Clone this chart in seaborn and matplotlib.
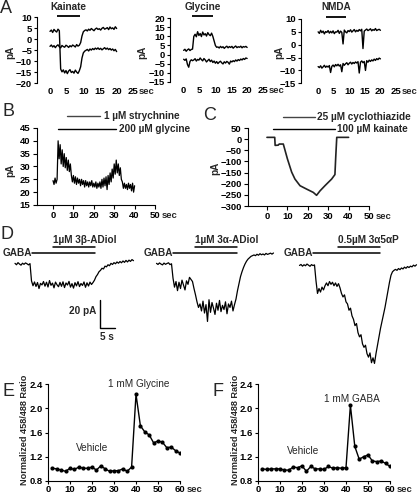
import numpy as np
import matplotlib
matplotlib.use("Agg")
import matplotlib.pyplot as plt
import seaborn as sns

# ======================= DATA =======================
# ---- Panel A (time 0-20 s, sampled evenly) ----
a_t_start, a_t_end = 0.0, 20.0
a_xticks = [0, 5, 10, 15, 20, 25]

kainate_trace_1 = [3.6, 4.2, 3.1, 4.5, 3.8, 3.3, 4.6, 3.9, -13.5,
                   -14.8, -13.9, -15.3, -14.2, -15.6, -14.4, -13.8, -15.1, -14.6, -15.4, -14.0, -14.9, -15.5, -14.3,
                   -12.5, -8.5, -6.2, -5.4,
                   -5.0, -4.6, -5.3, -4.4, -4.9, -4.2, -4.7, -4.0, -4.5, -3.9, -4.6, -4.1, -4.8, -4.3, -3.8, -4.5,
                   -4.0, -4.7, -4.2, -4.9, -4.4, -5.2, -4.6, -5.6]
kainate_trace_2 = [-3.2, -2.6, -3.5, -2.9, -3.8, -3.0, -2.5, -3.4, -3.9, -2.8, -3.3, -3.6, -2.7, -3.1, -3.7, -2.9,
                   -3.4, -2.6, -3.0, -3.5, -2.4, -3.1, -2.7,
                   -1.5, 1.5, 3.4, 4.0,
                   4.3, 3.8, 4.6, 4.1, 4.9, 4.4, 3.9, 4.7, 5.1, 4.5, 4.8, 4.2, 5.0, 5.4, 4.6, 4.9, 5.3, 4.4, 5.6,
                   4.8, 5.2, 4.5, 5.7, 4.9]
kainate_yticks = [10, 5, 0, -5, -10, -15, -20]
kainate_bar = (2.1, 9.0)

glycine_trace_1 = [2.3, 2.9, 1.8, 2.6, 3.1, 2.2, 2.8, 3.0, 10.0,
                   11.2, 9.8, 12.6, 10.5, 11.6, 9.9, 12.4, 10.8, 11.5, 10.2, 12.1, 11.0, 10.4, 11.8,
                   10.0, 7.5, 5.0, 4.0,
                   4.2, 3.6, 4.5, 3.8, 4.3, 3.4, 4.1, 4.6, 3.7, 4.4, 3.9, 4.5, 3.5, 4.2, 4.7, 3.8, 4.3, 4.0,
                   4.6, 3.7, 4.4, 4.1, 4.5, 3.9]
glycine_trace_2 = [-2.6, -3.2, -2.4, -5.5, -7.0, -3.8, -2.9, -3.4, -3.0, -2.3, -3.6, -2.7, -3.1, -1.9, -2.8,
                   -3.5, -2.2, -3.0, -4.1, -3.3, -2.6, -3.9, -3.1, -4.4, -3.6, -4.8, -3.9, -5.0, -4.2, -3.7,
                   -4.6, -5.2, -4.0, -4.7, -3.8, -4.3, -5.3, -3.6, -4.1, -3.4, -3.9, -3.0, -3.6, -2.8, -3.3,
                   -2.5, -3.0, -2.2, -2.7, -1.9, -2.2]
glycine_yticks = [20, 15, 10, 5, 0, -5, -10, -15]
glycine_bar = (2.6, 9.2)

nmda_trace_1 = [5.0, 4.4, 5.6, 4.7, 5.3, 4.2, 5.1, 4.8, 5.5, 4.5, 5.2, 4.6, 5.4, 4.3, 5.0, 4.9, 5.6, 4.4, 5.3, 4.8,
                0.3,
                5.7, 5.0, 4.6, 5.5, 5.1, 5.8, 4.9, 5.4, 5.9, 5.0, 5.6, 5.2, 5.9, 5.4, 6.0,
                -1.5,
                5.3, 5.7, 6.1, 5.5, 5.8, 6.2, 5.4, 5.9, 5.6, 6.3, 5.5, 5.8, 6.0, 5.6]
nmda_trace_2 = [-8.5, -8.9, -8.2, -9.1, -8.6, -8.0, -8.8, -8.3, -8.7, -8.1,
                -10.8,
                -8.4, -7.9, -8.6, -7.7, -8.2, -7.6, -8.3, -7.8,
                -10.5,
                -7.3, -8.0, -7.4, -7.0, -7.8, -7.2, -6.8, -7.5, -6.9, -7.3, -6.7, -7.1, -6.6,
                -11.0,
                -6.8, -6.3, -7.0, -6.5,
                -10.0,
                -6.2, -6.8, -6.0, -6.5, -5.9, -6.3, -5.6, -6.1, -5.4, -5.8, -5.2, -5.5]
nmda_yticks = [10, 5, 0, -5, -10, -15]
nmda_bar = (2.6, 9.1)

# ---- Panel B (0-40 s, 0.5 s steps) ----
b_t_start, b_t_end = 0.0, 40.0
b_current = [24.5, 23.0, 25.5, 23.5, 25.0, 40.0, 33.0, 38.5, 31.0, 36.5, 30.0, 35.0, 29.5, 33.5, 28.5, 32.5,
             28.0, 31.0, 26.5, 24.0, 26.5, 23.5, 26.0, 23.0, 25.5, 23.5, 25.0, 22.5, 25.0, 23.0, 24.5, 22.0,
             24.5, 22.5, 24.0, 22.0, 24.0, 22.5, 24.5, 22.0, 23.5, 22.0, 24.0, 21.5, 23.5, 22.0, 24.0, 21.5,
             25.0, 22.0, 25.5, 22.5, 26.0, 21.0, 26.5, 23.0, 27.5, 24.0, 29.0, 25.5, 31.0, 27.0, 32.5, 27.5,
             31.0, 26.5, 29.5, 25.0, 24.0, 21.5, 23.5, 21.5, 23.0, 21.0, 23.5, 21.5, 23.0, 20.5, 23.5, 20.0,
             22.5]
b_yticks = [15, 20, 25, 30, 35, 40, 45]
bc_xticks = [0, 10, 20, 30, 40, 50]
strychnine_bar = (7.0, 23.0)
b_glycine_bar = (2.5, 31.0)

# ---- Panel C ----
c_time = [0, 3.8, 4.0, 5.5, 6.0, 8.0, 10.0, 12.1, 13.7, 16.2, 19.4, 22.7, 24.3, 26.0, 28.4, 31.7, 33.3,
          33.7, 34.2, 40]
c_current = [8, 8, -28, -27, -22, -22, -88, -148, -179, -209, -224, -239, -252, -232, -209, -179, -159,
             -80, 8, 8]
c_yticks = [50, 0, -50, -100, -150, -200, -250, -300]
cyclothiazide_bar = (7.8, 23.5)
c_kainate_bar = (2.9, 33.3)

# ---- Panel D (0.5 s steps, pA relative to GABA baseline) ----
d_step = 0.5
d1_t0 = 5.0
d1_current = [0.5, -0.5, 1.0, 0.0, -0.8, 0.6, -0.2, 0.8, 0.2, -0.6, 0.3,
              -12.0,
              -15.5, -12.8, -16.0, -13.2, -17.5, -13.8, -14.9, -12.5, -15.8, -13.0, -16.4, -11.8, -15.2, -13.6,
              -17.0, -12.9, -14.8, -16.2, -13.1, -15.9, -12.7, -16.8, -13.5, -15.0, -12.4, -16.5, -14.0, -17.2,
              -13.3, -15.6, -12.6, -16.1, -13.9, -15.3, -12.8, -16.6, -13.4, -15.7, -12.9, -14.6, -13.2,
              -11.5, -9.0, -7.5, -5.5, -4.5, -3.0, -3.5, -1.5,
              -2.0, -0.5, -1.2, 0.5, -0.3, 1.0, 0.2, 1.5, 0.6, 1.8, 0.9, 2.2, 1.2, 2.6, 1.5, 2.8, 1.9, 3.2, 2.4]
d2_t0 = 5.5
d2_current = [0.5, -0.3, 0.8, 0.0, -0.6, 0.7, -0.2, 0.4, 0.9, -0.4, 0.2,
              -10.0,
              -16.5, -12.5, -19.0, -13.0, -17.5, -11.5, -15.0, -18.5, -12.0, -14.5,
              -9.5, -11.0, -12.5,
              -17.5, -22.0, -27.0, -31.0,
              -28.5, -33.5, -26.5, -35.0, -29.0, -41.0, -25.5, -34.5, -27.5, -31.5, -36.0, -28.0, -33.0, -26.0,
              -34.0, -29.5, -32.5, -27.0, -35.5, -28.5, -31.0, -26.5, -33.5, -29.0,
              -25.0, -19.0, -14.0, -9.0, -5.5, -2.5, 0.0, 2.0, 3.5, 4.5, 5.5, 6.0, 6.5,
              6.0, 7.0, 6.3, 7.4, 6.6, 7.2, 6.5, 7.6, 6.9, 7.3, 7.8, 7.1, 7.9]
d3_t0 = 6.5
d3_current = [-1.0, -0.3, -1.5, -0.5, -1.2, 0.0, -0.8, -1.6, -0.4, -1.1, -0.6,
              -12.0,
              -21.0, -17.5, -20.0, -16.5, -18.5, -15.5,
              -13.5, -15.5, -12.5, -14.5, -13.0, -15.5, -13.5, -16.0, -14.0, -17.0,
              -21.0, -23.5, -22.0, -27.0, -28.5, -33.0, -31.5, -37.0, -39.5, -44.0, -42.5, -49.0, -52.0, -50.5,
              -57.0, -59.5, -58.0, -64.0, -66.5, -63.5, -70.5,
              -67.0, -71.0, -64.0, -58.0, -52.0,
              -46.0, -41.0, -36.0, -31.0, -25.0, -19.0, -13.0, -8.0, -5.5, -4.5,
              -3.8, -4.5, -3.2, -4.0, -2.8, -3.5, -2.2, -3.0, -1.8, -2.5, -1.5, -2.0, -0.8, -1.5, -0.5]
d_gaba_bars = [(10.6, 31.7), (11.0, 32.3), (11.0, 33.3)]
d_drug_bars = [(17.8, 31.7), (18.3, 32.3), (19.3, 33.3)]
d_drug_labels = ["1\u00b5M 3\u03b2-ADiol", "1\u00b5M 3\u03b1-ADiol", "0.5\u00b5M 3\u03b15\u03b1P"]

# ---- Panels E / F ----
ef_time = [2, 4, 6, 8, 10, 12, 14, 16, 18, 20, 22, 24, 26, 28, 30, 32, 34, 36, 38, 40,
           42, 44, 46, 48, 50, 52, 54, 56, 58, 60]
e_ratio = [1.01, 1.00, 0.98, 0.96, 1.01, 0.99, 1.03, 1.01, 1.01, 1.03, 0.98, 1.05, 1.00, 0.96, 0.97,
           0.97, 1.00, 0.96, 1.03, 2.23, 1.71, 1.61, 1.56, 1.43, 1.46, 1.44, 1.35, 1.36, 1.30, 1.26]
f_ratio = [1.00, 0.99, 1.00, 1.00, 1.00, 0.98, 0.98, 1.03, 1.02, 1.05, 0.96, 1.04, 1.00, 1.00, 0.99,
           1.04, 1.01, 1.02, 1.01, 1.02, 2.05, 1.37, 1.16, 1.20, 1.23, 1.13, 1.12, 1.13, 1.09, 1.04]
ef_yticks = [0.8, 1.2, 1.6, 2.0, 2.4]
ef_xticks = [0, 10, 20, 30, 40, 50, 60]

# ======================= STYLE =======================
sns.set_style("ticks")
plt.rcParams["font.family"] = ["Liberation Sans", "DejaVu Sans"]
plt.rcParams["axes.linewidth"] = 0.8
plt.rcParams["xtick.major.width"] = 0.8
plt.rcParams["ytick.major.width"] = 0.8
plt.rcParams["xtick.color"] = "black"
plt.rcParams["ytick.color"] = "black"
plt.rcParams["axes.edgecolor"] = "black"

W, H = 420, 497
fig = plt.figure(figsize=(W / 100, H / 100), dpi=100)
fig.patch.set_facecolor("white")

TF = 6.8  # tick font size
LF = 7.2  # label font


def px_axes(l, t, r, b):
    return fig.add_axes([l / W, 1 - b / H, (r - l) / W, (b - t) / H])


def ftext(x, y, s, **kw):
    fig.text(x / W, 1 - y / H, s, **kw)


def trace(ax, t, v, lw=0.8, color="black"):
    sns.lineplot(x=t, y=v, ax=ax, color=color, lw=lw, estimator=None, sort=False, legend=False)


def sec_label(ax, xval, dx_pts, pad_pts):
    ax.annotate("sec", xy=(xval, 0), xycoords=("data", "axes fraction"),
                xytext=(dx_pts, -pad_pts), textcoords="offset points",
                ha="left", va="top", fontsize=TF, fontweight="bold")


def style_ticks(ax):
    for lab in ax.get_xticklabels() + ax.get_yticklabels():
        lab.set_fontweight("bold")
        lab.set_fontsize(TF)


# ======================= PANEL A =======================
a_specs = [
    ((37, 17.3, 133.3, 83.3), (-3.9, 25), (-20, 10), kainate_yticks,
     kainate_trace_1, kainate_trace_2, kainate_bar, "Kainate", 10.7, 14.8, 10),
    ((170, 18.3, 263, 81.7), (-4.3, 25), (-15, 20), glycine_yticks,
     glycine_trace_1, glycine_trace_2, glycine_bar, "Glycine", 21.4, 26.2, 142),
    ((301, 19, 396, 83.3), (-5.5, 25), (-15, 10), nmda_yticks,
     nmda_trace_1, nmda_trace_2, nmda_bar, "NMDA", 10.9, 14.7, 279),
]
for box, xl, yl, yt, tr1, tr2, bar, name, bar_y, name_y, pa_x in a_specs:
    ax = px_axes(*box)
    t1 = np.linspace(a_t_start, a_t_end, len(tr1))
    t2 = np.linspace(a_t_start, a_t_end, len(tr2))
    trace(ax, t1, tr1, lw=1.0)
    trace(ax, t2, tr2, lw=1.0)
    ax.set_xlim(*xl)
    ax.set_ylim(*yl)
    ax.set_xticks(a_xticks)
    ax.set_yticks(yt)
    ax.set_xlabel("")
    ax.set_ylabel("")
    for s in ["top", "right", "bottom"]:
        ax.spines[s].set_visible(False)
    ax.tick_params(axis="x", length=0, pad=3.0)
    ax.tick_params(axis="y", length=2.0, pad=1.5)
    style_ticks(ax)
    sec_label(ax, 25, 3.8, 3.0)
    ax.plot(list(bar), [bar_y, bar_y], color="black", lw=1.3, clip_on=False, solid_capstyle="butt")
    ax.text(sum(bar) / 2, name_y, name, ha="center", va="center", fontsize=LF, fontweight="bold")
    ftext(pa_x, 52, "pA", rotation=90, ha="center", va="center", fontsize=LF, fontweight="bold")

ftext(0, 0, "A", fontsize=13, ha="left", va="top")

# ======================= PANEL B =======================
axb = px_axes(36.7, 128, 155, 205)
tb = np.linspace(b_t_start, b_t_end, len(b_current))
trace(axb, tb, b_current, lw=0.9)
axb.set_xlim(-8, 50)
axb.set_ylim(15, 45)
axb.set_xticks(bc_xticks)
axb.set_yticks(b_yticks)
axb.set_xlabel("")
axb.set_ylabel("")
sns.despine(ax=axb)
axb.tick_params(axis="both", length=3, pad=1.5)
style_ticks(axb)
sec_label(axb, 50, 5, 4.5)
axb.plot(list(strychnine_bar), [49.7, 49.7], color="#444444", lw=1.0, clip_on=False)
axb.plot(list(b_glycine_bar), [44.6, 44.6], color="black", lw=1.0, clip_on=False)
axb.text(strychnine_bar[1] + 2.2, 49.7, "1 \u00b5M strychnine", ha="left", va="center",
         fontsize=LF, fontweight="bold")
axb.text(b_glycine_bar[1] + 1.5, 44.6, "200 \u00b5M glycine", ha="left", va="center",
         fontsize=LF, fontweight="bold")
ftext(10, 170, "pA", rotation=90, ha="center", va="center", fontsize=LF, fontweight="bold")
ftext(2, 103, "B", fontsize=13, ha="left", va="top")

# ======================= PANEL C =======================
axc = px_axes(248, 128, 369, 206)
trace(axc, c_time, c_current, lw=1.2, color="#222222")
axc.set_xlim(-9.3, 50)
axc.set_ylim(-300, 50)
axc.set_xticks(bc_xticks)
axc.set_yticks(c_yticks)
axc.set_xlabel("")
axc.set_ylabel("")
sns.despine(ax=axc)
axc.tick_params(axis="both", length=3, pad=1.5)
style_ticks(axc)
sec_label(axc, 50, 5, 4.5)
axc.plot(list(cyclothiazide_bar), [99, 99], color="#444444", lw=1.0, clip_on=False)
axc.plot(list(c_kainate_bar), [45.5, 45.5], color="black", lw=1.0, clip_on=False)
axc.text(cyclothiazide_bar[1] + 1.2, 99, "25 \u00b5M cyclothiazide", ha="left", va="center",
         fontsize=LF, fontweight="bold")
axc.text(c_kainate_bar[1] + 0.8, 45.5, "100 \u00b5M kainate", ha="left", va="center",
         fontsize=LF, fontweight="bold")
ftext(215, 168, "pA", rotation=90, ha="center", va="center", fontsize=LF, fontweight="bold")
ftext(203, 107, "C", fontsize=13, ha="left", va="top")

# ======================= PANEL D =======================
d_traces = [(d1_t0, d1_current), (d2_t0, d2_current), (d3_t0, d3_current)]
d_lefts = [0, 140, 280]
gaba_y = 7.9
drug_y = 12.4
for i, ((t0, cur), left) in enumerate(zip(d_traces, d_lefts)):
    ax = px_axes(left, 225, left + 140, 370)
    td = t0 + d_step * np.arange(len(cur))
    trace(ax, td, cur, lw=0.9)
    ax.set_xlim(0, 46.67)
    ax.set_ylim(-75.7, 27.9)
    ax.axis("off")
    g0, g1 = d_gaba_bars[i]
    ax.plot([g0, g1], [gaba_y, gaba_y], color="black", lw=1.1, clip_on=False)
    ax.text(g0, gaba_y, "GABA", ha="right", va="center", fontsize=LF, fontweight="bold")
    r0, r1 = d_drug_bars[i]
    ax.plot([r0, r1], [drug_y, drug_y], color="black", lw=1.1, clip_on=False)
    ax.text(r0, drug_y + 1.3, d_drug_labels[i], ha="left", va="bottom", fontsize=LF, fontweight="bold")
    if i == 0:
        # scale bar: 20 pA, 5 s
        ax.plot([33.3, 33.3, 38.3], [-25.7, -45.7, -45.7], color="black", lw=1.0, clip_on=False)
        ax.text(32.0, -33.5, "20 pA", ha="right", va="center", fontsize=LF, fontweight="bold")
        ax.text(35.8, -48.5, "5 s", ha="center", va="top", fontsize=LF, fontweight="bold")
ftext(0, 226, "D", fontsize=13, ha="left", va="top")

# ======================= PANELS E / F =======================
ef_specs = [(48, 180, e_ratio, "1 mM Glycine", (41, 2.4), (20, 1.34), 25, "E", 2),
            (258, 390, f_ratio, "1 mM GABA", (42.7, 2.155), (20.5, 1.29), 235, "F", 212)]
for l, r, ratio, stim, stim_xy, veh_xy, yl_x, letter, let_x in ef_specs:
    ax = px_axes(l, 384, r, 481)
    sns.lineplot(x=ef_time, y=ratio, ax=ax, color="black", lw=1.0, marker="o", markersize=3,
                 markeredgewidth=0, estimator=None, legend=False)
    ax.set_xlim(0, 60)
    ax.set_ylim(0.8, 2.4)
    ax.set_xticks(ef_xticks)
    ax.set_yticks(ef_yticks)
    ax.set_yticklabels([f"{v:.1f}" for v in ef_yticks])
    ax.set_xlabel("")
    ax.set_ylabel("")
    sns.despine(ax=ax)
    ax.tick_params(axis="x", length=2.0, pad=0.8)
    ax.tick_params(axis="y", length=2.5, pad=1.5)
    style_ticks(ax)
    sec_label(ax, 60, 5, 2.8)
    ax.text(*stim_xy, stim, ha="center", va="center", fontsize=LF)
    ax.text(*veh_xy, "Vehicle", ha="center", va="center", fontsize=LF)
    ftext(yl_x, 430, "Normalized 458/488 Ratio", rotation=90, ha="center", va="center",
          fontsize=6.6, fontweight="bold")
    ftext(let_x, 383, letter, fontsize=13, ha="left", va="top")

fig.savefig("out.png", dpi=100, facecolor="white")
